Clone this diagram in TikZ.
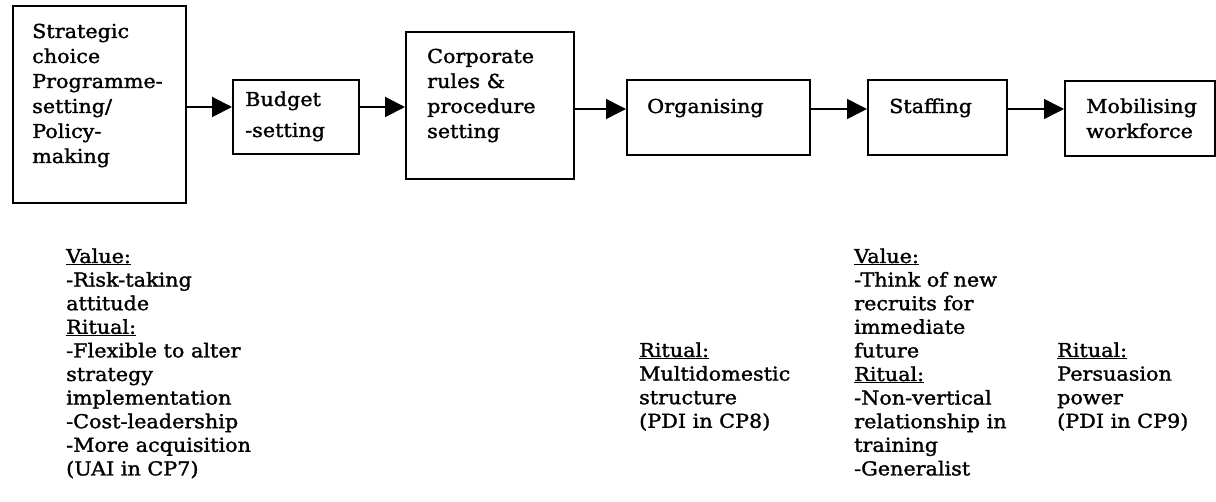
\documentclass[tikz,border=0pt]{standalone}
\usepackage{fontspec}
\setmainfont{DejaVu Serif}[FakeStretch=1.08,FakeBold=1.5]
\usetikzlibrary{arrows.meta}
\newcommand\mylines[1]{\begin{tabular}[t]{@{}l@{}}#1\end{tabular}}
\begin{document}
\begin{tikzpicture}[x=1pt,y=-1pt,
  box/.style={draw, line width=1.8pt, inner sep=0pt, anchor=north west},
  txt/.style={inner sep=0pt, anchor=base west, font=\fontsize{19.2}{25}\selectfont},
  col/.style={inner sep=0pt, anchor=base west, font=\fontsize{19.2}{23.6}\selectfont},
  arr/.style={line width=2pt, -{Triangle[length=20pt,width=20pt]}},
  arrthin/.style={line width=1.5pt, -{Triangle[length=20pt,width=20pt]}},
]
\useasboundingbox (0,0) rectangle (1216,502);
% boxes
\node[box, minimum width=173pt, minimum height=197pt] (b1) at (12,5) {};
\node[box, minimum width=126pt, minimum height=74pt] (b2) at (232,79) {};
\node[box, minimum width=168pt, minimum height=147pt] (b3) at (405,31) {};
\node[box, minimum width=183pt, minimum height=75pt] (b4) at (626,79) {};
\node[box, minimum width=139pt, minimum height=75pt] (b5) at (867,79) {};
\node[box, minimum width=150pt, minimum height=75pt] (b6) at (1064,80) {};
% box texts
\node[txt] (t1) at (32,38) {\mylines{Strategic\\choice\\Programme-\\setting/\\Policy-\\making}};
\node[txt] (t2) at (245,106) {\mylines{Budget\\[6pt]-setting}};
\node[txt] (t3) at (427,63) {\mylines{Corporate\\rules \&\\procedure\\setting}};
\node[txt] (t4) at (647,113) {Organising};
\node[txt] (t5) at (889,113) {Staffing};
\node[txt] (t6) at (1086,113) {\mylines{Mobilising\\workforce}};
% arrows
\coordinate (ya) at (0,107);
\coordinate (yb) at (0,109);
\draw[arr] (b1.east |- ya) -- (b2.west |- ya);
\draw[arr] (b2.east |- ya) -- (b3.west |- ya);
\draw[arrthin] (b3.east |- yb) -- (b4.west |- yb);
\draw[arrthin] (b4.east |- yb) -- (b5.west |- yb);
\draw[arrthin] (b5.east |- yb) -- (b6.west |- yb);
% lower columns
\node[col] (c1) at (66,263) {\mylines{\underline{Value:}\\-Risk-taking\\attitude\\\underline{Ritual:}\\-Flexible to alter\\strategy\\implementation\\-Cost-leadership\\-More acquisition\\(UAI in CP7)}};
\node[col] (c2) at (639,357) {\mylines{\underline{Ritual:}\\Multidomestic\\structure\\(PDI in CP8)}};
\node[col] (c3) at (854,263) {\mylines{\underline{Value:}\\-Think of new\\recruits for\\immediate\\future\\\underline{Ritual:}\\-Non-vertical\\relationship in\\training\\-Generalist}};
\node[col] (c4) at (1057,357) {\mylines{\underline{Ritual:}\\Persuasion\\power\\(PDI in CP9)}};
\end{tikzpicture}
\end{document}
